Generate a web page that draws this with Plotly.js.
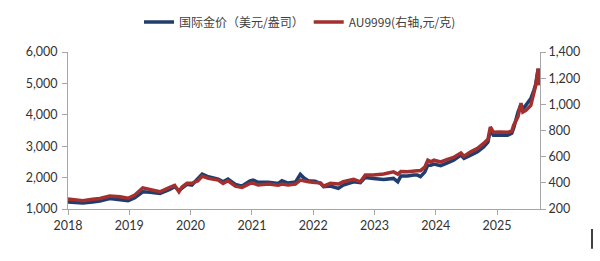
<!DOCTYPE html>
<html>
<head>
<meta charset="utf-8">
<script src="https://cdn.plot.ly/plotly-3.0.1.min.js"></script>
<style>html,body{margin:0;padding:0;background:#fff;}#chart{width:600px;height:261px;}</style>
</head>
<body>
<div id="chart"></div>
<script>
// x positions on the chart's own year axis
const xPos = [2018.00,2018.11,2018.24,2018.40,2018.52,2018.68,2018.85,2018.98,2019.09,2019.22,2019.34,2019.50,2019.66,2019.74,2019.81,2019.86,2019.94,2020.02,2020.12,2020.19,2020.29,2020.45,2020.53,2020.61,2020.73,2020.84,2020.97,2021.02,2021.10,2021.27,2021.43,2021.49,2021.59,2021.71,2021.79,2021.85,2021.92,2022.03,2022.12,2022.17,2022.28,2022.41,2022.49,2022.66,2022.77,2022.85,2022.98,2023.15,2023.31,2023.38,2023.43,2023.54,2023.64,2023.70,2023.75,2023.82,2023.87,2023.92,2023.97,2024.08,2024.19,2024.29,2024.41,2024.46,2024.57,2024.68,2024.78,2024.85,2024.89,2024.94,2025.03,2025.17,2025.24,2025.27,2025.34,2025.39,2025.42,2025.47,2025.55,2025.60,2025.63,2025.67,2025.69];
// 国际金价 (USD/oz)
const goldUSD = [1222,1206,1190,1222,1254,1333,1308,1264,1359,1549,1530,1498,1625,1708,1587,1667,1784,1762,1975,2111,2026,1952,1867,1952,1784,1730,1899,1921,1848,1848,1816,1899,1826,1857,2102,1984,1899,1883,1816,1708,1730,1657,1762,1867,1836,2006,1975,1941,1975,1867,2048,2048,2080,2080,2032,2175,2397,2397,2429,2381,2470,2556,2715,2610,2715,2819,2978,3127,3508,3350,3350,3350,3413,3572,4080,4334,4175,4302,4515,4778,4969,5467,5096];
// AU9999 (CNY/g, right axis)
const au9999 = [276,272,263,274,280,299,294,282,307,362,350,332,365,381,332,368,396,396,416,451,434,421,396,416,375,365,396,398,383,391,381,391,383,391,421,413,408,403,400,375,396,391,408,426,408,459,459,467,484,467,486,484,492,492,493,520,573,560,573,560,579,594,629,604,637,663,701,733,827,787,789,787,794,840,903,1010,941,954,992,1082,1145,1272,1145];
const yearTicks = [2018,2019,2020,2021,2022,2023,2024,2025];
const yearLabels = ['2018','2019','2020','2021','2022','2023','2024','2025'];
const seriesNames = ['国际金价（美元/盎司）','AU9999(右轴,元/克)'];

const font = {family:'Lato, "Noto Sans CJK SC", sans-serif', size:12.5, color:'#333333'};
const axisColor = '#a6a6a6';

const traces = [
  {x:xPos, y:goldUSD, name:seriesNames[0], type:'scatter', mode:'lines',
   line:{color:'#1f3d6e', width:3.5}, yaxis:'y'},
  {x:xPos, y:au9999, name:seriesNames[1], type:'scatter', mode:'lines',
   line:{color:'#a3302e', width:3.5}, yaxis:'y2'}
];

const layout = {
  width:600, height:261,
  margin:{l:68, r:60, t:51.5, b:52, pad:0, autoexpand:false},
  paper_bgcolor:'#fff', plot_bgcolor:'#fff',
  font:font,
  separators:'.,',
  showlegend:true,
  legend:{orientation:'h', x:0.5, xanchor:'center', xref:'container',
    y:1 - 22/261, yanchor:'middle', yref:'container',
    font:{family:'"Noto Sans CJK SC", Lato, sans-serif', size:12, color:'#404040'},
    itemwidth:30, tracegroupgap:0},
  xaxis:{range:[2018, 2025.70], tickvals:yearTicks, ticktext:yearLabels,
    showgrid:false, zeroline:false, showline:true, linecolor:axisColor, linewidth:1,
    ticks:'outside', ticklen:5, tickcolor:axisColor, tickfont:font, fixedrange:true},
  yaxis:{range:[1000,6000], dtick:1000, tickformat:',d', separatethousands:true,
    showgrid:false, zeroline:false, showline:true, linecolor:axisColor, linewidth:1,
    ticks:'outside', ticklen:5, tickcolor:axisColor, tickfont:font, ticklabelstandoff:2},
  yaxis2:{range:[200,1400], dtick:200, tickformat:',d', separatethousands:true,
    overlaying:'y', side:'right',
    showgrid:false, zeroline:false, showline:true, linecolor:axisColor, linewidth:1,
    ticks:'outside', ticklen:5, tickcolor:axisColor, tickfont:font},
  shapes:[{type:'line', xref:'paper', yref:'paper',
    x0:(592-68)/472, x1:(592-68)/472, y0:-(229-209)/157.5, y1:-(249-209)/157.5,
    line:{color:'#000', width:1.5}}]
};

Plotly.newPlot('chart', traces, layout, {displayModeBar:false, staticPlot:true});
</script>
</body>
</html>
